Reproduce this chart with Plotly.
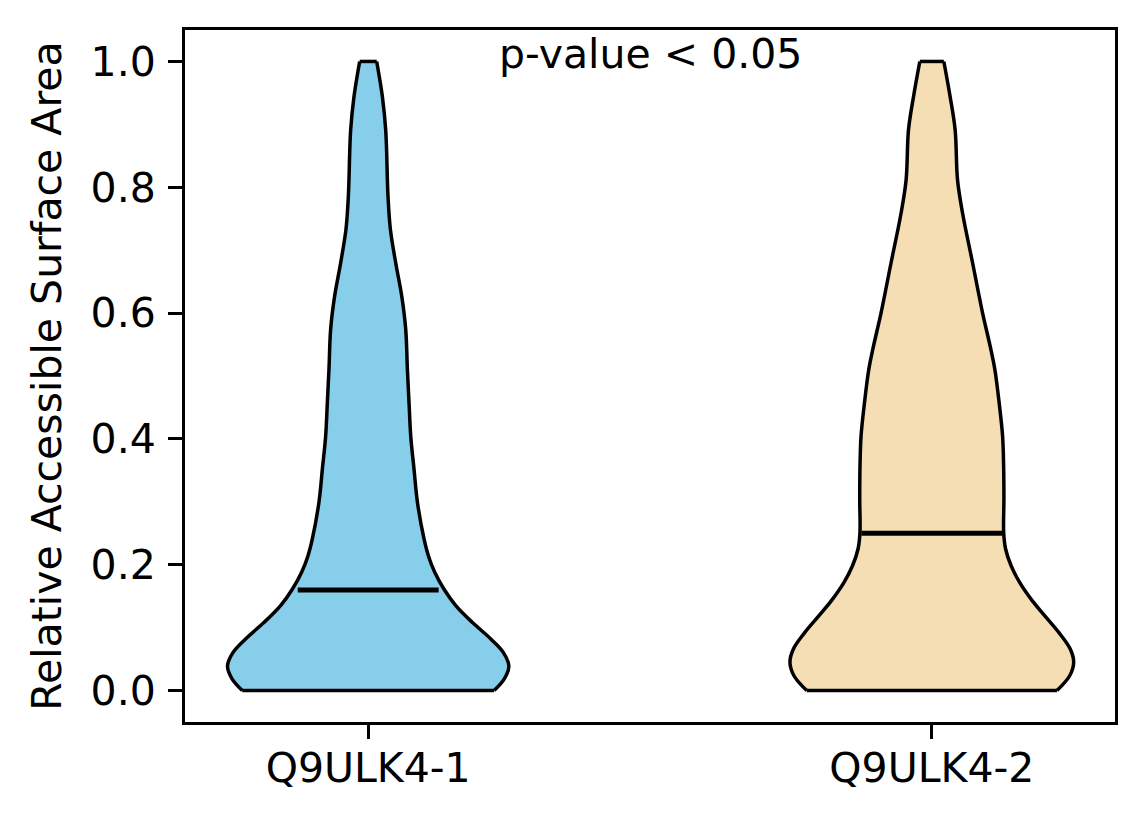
import plotly.graph_objects as go

# ---- data ----
categories = ["Q9ULK4-1", "Q9ULK4-2"]
positions = [1, 2]
medians = [0.160, 0.250]
fill_colors = ["#87CEEB", "#F5DEB3"]

# density profile (y value, half-width in x-axis units) of each violin
v1_y = [0.0, 0.018, 0.039, 0.061, 0.082, 0.108, 0.135, 0.161, 0.188, 0.214, 0.241, 0.299,
        0.352, 0.404, 0.457, 0.51, 0.574, 0.627, 0.680, 0.733, 0.785, 0.891, 0.944, 1.0]
v1_w = [0.2234, 0.2412, 0.2496, 0.2394, 0.2176, 0.1851, 0.1554, 0.1346, 0.1181, 0.1069, 0.0991, 0.0874,
        0.0813, 0.0755, 0.0725, 0.0696, 0.0666, 0.0595, 0.0488, 0.0394, 0.0352, 0.0311, 0.0252, 0.0151]

v2_y = [0.0, 0.0235, 0.045, 0.066, 0.092, 0.119, 0.145, 0.172, 0.198, 0.225, 0.251, 0.304,
        0.352, 0.404, 0.457, 0.51, 0.547, 0.600, 0.680, 0.759, 0.812, 0.891, 0.944, 1.0]
v2_w = [0.2220, 0.2446, 0.2517, 0.2456, 0.2256, 0.2002, 0.1764, 0.1558, 0.1409, 0.1309, 0.1275, 0.1279,
        0.1275, 0.1256, 0.1195, 0.1119, 0.1036, 0.0901, 0.0723, 0.0545, 0.0456, 0.0414, 0.0325, 0.0213]

profiles = [(v1_y, v1_w), (v2_y, v2_w)]
annotation_text = "p-value < 0.05"
y_title = "Relative Accessible Surface Area"
y_ticks = [0.0, 0.2, 0.4, 0.6, 0.8, 1.0]

MEDIAN_HALF = 0.125
FONT = "DejaVu Sans"
FS = 41
EDGE = dict(color="black", width=3.5)

fig = go.Figure()
for pos, (ys, ws), col in zip(positions, profiles, fill_colors):
    left = [pos - w for w in ws]
    right = [pos + w for w in ws]
    # left edge (no fill), right edge filled horizontally to the left edge
    fig.add_trace(go.Scatter(x=left, y=ys, mode="lines",
                             line=dict(EDGE, shape="spline", smoothing=1.0),
                             hoverinfo="skip", showlegend=False))
    fig.add_trace(go.Scatter(x=right, y=ys, mode="lines", fill="tonextx", fillcolor=col,
                             line=dict(EDGE, shape="spline", smoothing=1.0),
                             hoverinfo="skip", showlegend=False))
    # flat bottom and top edges
    for i in (0, -1):
        fig.add_trace(go.Scatter(x=[left[i], right[i]], y=[ys[i], ys[i]], mode="lines",
                                 line=EDGE, hoverinfo="skip", showlegend=False))

for pos, med in zip(positions, medians):
    fig.add_trace(go.Scatter(
        x=[pos - MEDIAN_HALF, pos + MEDIAN_HALF], y=[med, med], mode="lines",
        line=dict(color="black", width=5), hoverinfo="skip", showlegend=False))

fig.add_annotation(text=annotation_text, xref="paper", yref="paper",
                   x=0.5, y=0.965, xanchor="center", yanchor="middle",
                   showarrow=False, font=dict(family=FONT, size=FS, color="black"))

axis_common = dict(showline=True, linecolor="black", linewidth=3, mirror=True,
                   ticks="outside", ticklen=14, tickwidth=3, tickcolor="black",
                   showgrid=False, zeroline=False,
                   tickfont=dict(family=FONT, size=FS, color="black"))

fig.update_xaxes(range=[0.675, 2.325], tickvals=positions, ticktext=categories,
                 ticklabelstandoff=-6, **axis_common)
fig.update_yaxes(range=[-0.05, 1.05], tickvals=y_ticks, tickformat=".1f",
                 ticklabelstandoff=4,
                 title=dict(text=y_title, font=dict(family=FONT, size=FS, color="black"),
                            standoff=17),
                 **axis_common)

# page body has an 8px margin, so the figure is shrunk and margins offset by it
fig.update_layout(width=1136, height=816, autosize=False,
                  margin=dict(l=177, r=29, t=22, b=102),
                  paper_bgcolor="white", plot_bgcolor="white",
                  font=dict(family=FONT, size=FS, color="black"))

fig.write_html("out.html")
